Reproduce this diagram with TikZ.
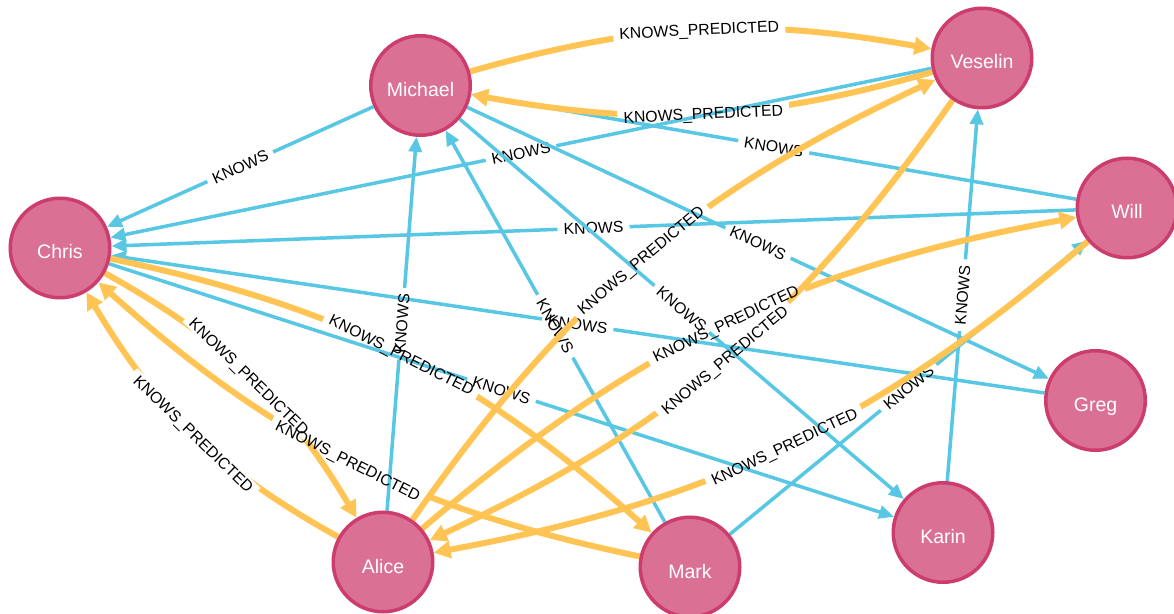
\documentclass[tikz,border=0pt]{standalone}
\usepackage{fontspec}
\setmainfont{Liberation Sans}
\usetikzlibrary{arrows.meta}

\definecolor{nodefill}{HTML}{DA7194}
\definecolor{nodeline}{HTML}{CC3C6C}
\definecolor{knowscol}{HTML}{57C7E3}
\definecolor{predcol}{HTML}{FFC454}

\pgfdeclarelayer{bg}
\pgfdeclarelayer{edges}
\pgfsetlayers{bg,edges,main}

\tikzset{
  person/.style={circle, fill=nodefill, draw=nodeline, line width=3.5pt,
    minimum size=99.5pt, inner sep=0pt, text=white,
    font=\fontsize{19.5}{20}\selectfont, text height=22pt, text depth=0pt},
  rellabel/.style={sloped, midway, text=black,
    font=\fontsize{15.8}{16}\selectfont, inner xsep=6pt, inner ysep=2pt,
    text height=11.3pt, text depth=0pt},
  knowsrel/.style={draw=knowscol, line width=3.5pt,
    -{Triangle[length=15pt,width=13pt]}},
  predrel/.style={draw=predcol, line width=6pt,
    -{Triangle[length=17pt,width=17pt]}},
}

% \rel[path options]{style}{from}{to}{caption}
% The caption sits midway; the connector is clipped around it so that
% only its own stroke shows a gap.
\newcommand\rel[5][]{%
  \path (#3) to[#1] node[rellabel] (lb) {#5} (#4);
  \begin{scope}
    \clip (-20pt,-20pt) -- (-20pt,640pt) -- (1200pt,640pt) -- (1200pt,-20pt) -- cycle
          (lb.south west) -- (lb.south east) -- (lb.north east) -- (lb.north west) -- cycle;
    \draw[#2] (#3) to[#1] (#4);
  \end{scope}}

\begin{document}
\begin{tikzpicture}[x=1pt, y=1pt]
  \useasboundingbox (0,0) rectangle (1174,613);
  \begin{pgfonlayer}{bg}
    \fill[white] (0,0) rectangle (1174,613);
  \end{pgfonlayer}

  % people
  \node[person] (michael) at (420.5,527.5) {Michael};
  \node[person] (veselin) at (982,555) {Veselin};
  \node[person] (chris)   at (60,365)   {Chris};
  \node[person] (will)    at (1127,405) {Will};
  \node[person] (greg)    at (1095.5,212.5) {Greg};
  \node[person] (karin)   at (943,80.5) {Karin};
  \node[person] (mark)    at (690,46)   {Mark};
  \node[person] (alice)   at (383,51)   {Alice};

  \begin{pgfonlayer}{edges}
    % known relationships
    \rel{knowsrel}{michael}{chris}{KNOWS}
    \rel{knowsrel}{veselin}{chris}{KNOWS}
    \rel{knowsrel}{will}{chris}{KNOWS}
    \rel{knowsrel}{greg}{chris}{KNOWS}
    \rel{knowsrel}{chris}{karin}{KNOWS}
    \rel{knowsrel}{alice}{michael}{KNOWS}
    \rel{knowsrel}{mark}{michael}{KNOWS}
    \rel{knowsrel}{michael}{karin}{KNOWS}
    \rel{knowsrel}{michael}{greg}{KNOWS}
    \rel{knowsrel}{will}{michael}{KNOWS}
    \rel{knowsrel}{karin}{veselin}{KNOWS}
    \rel{knowsrel}{mark}{will}{KNOWS}

    % predicted relationships
    \rel[bend left=13]{predrel}{michael}{veselin}{KNOWS\_PREDICTED}
    \rel[bend left=13]{predrel}{veselin}{michael}{KNOWS\_PREDICTED}
    \rel[bend left=15]{predrel}{alice}{veselin}{KNOWS\_PREDICTED}
    \rel[bend left=15]{predrel}{veselin}{alice}{KNOWS\_PREDICTED}
    \rel[bend left=15]{predrel}{alice}{will}{KNOWS\_PREDICTED}
    \rel[bend left=15]{predrel}{will}{alice}{KNOWS\_PREDICTED}
    \rel[bend left=15]{predrel}{chris}{alice}{KNOWS\_PREDICTED}
    \rel[bend left=15]{predrel}{alice}{chris}{KNOWS\_PREDICTED}
    \rel[bend left=15]{predrel}{chris}{mark}{KNOWS\_PREDICTED}
    \rel[bend left=15]{predrel}{mark}{chris}{KNOWS\_PREDICTED}
  \end{pgfonlayer}
\end{tikzpicture}
\end{document}
